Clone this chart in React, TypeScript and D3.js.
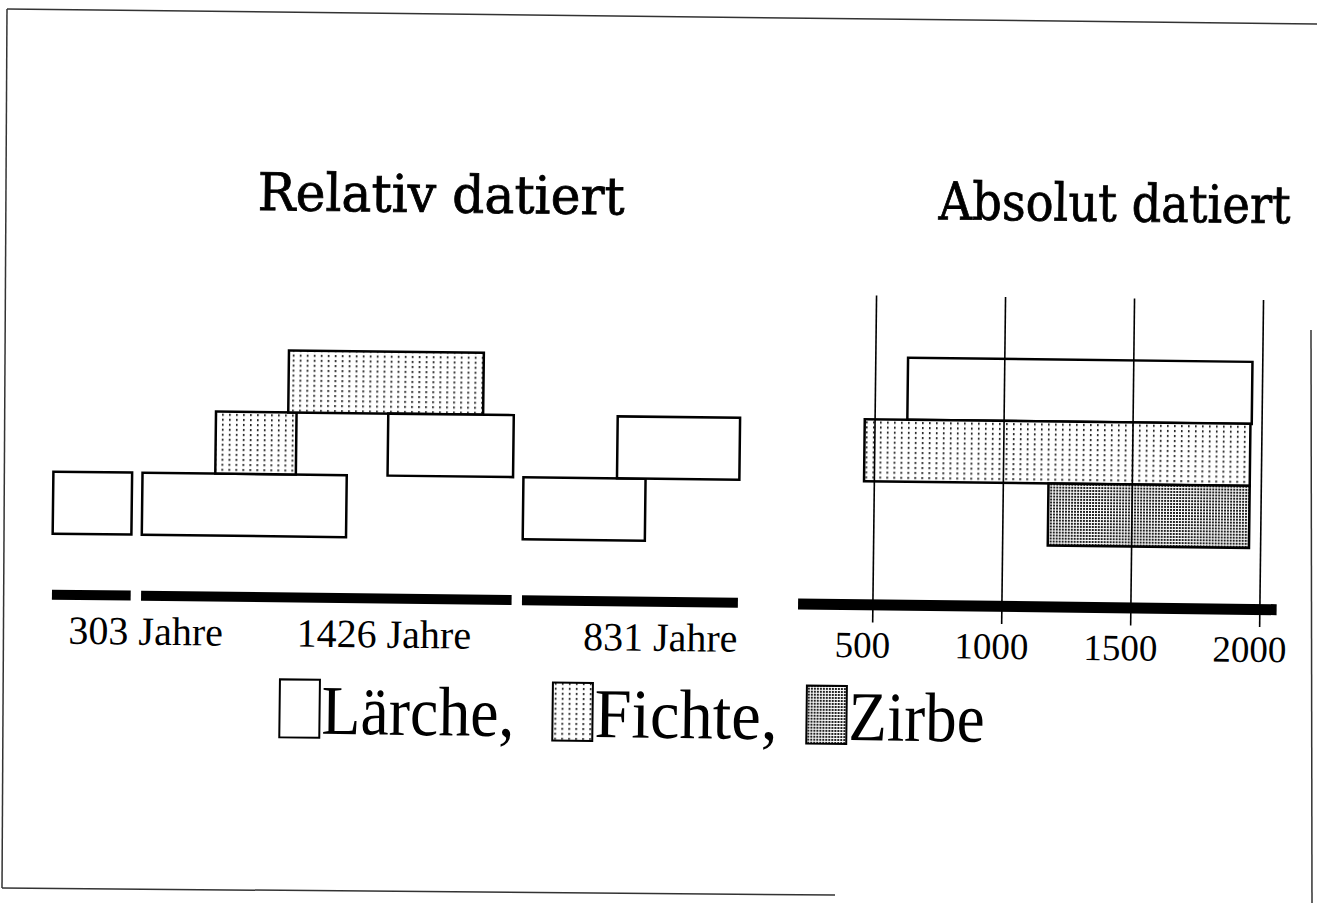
import React from "react";
import * as d3 from "d3";

// ---------- data ----------
const species = ["Lärche", "Fichte", "Zirbe"];
const legendLabels = ["Lärche,", "Fichte,", "Zirbe"];

// relative (floating) chronologies, lengths in years
const relSegments = [303, 1426, 831];
const relSegmentLabels = ["303 Jahre", "1426 Jahre", "831 Jahre"];

// bars within the floating chronologies (years relative to segment start)
const relBars = [
  { species: "Lärche", segment: 0, start: 0, end: 303, row: 0 },
  { species: "Lärche", segment: 1, start: 0, end: 786, row: 0 },
  { species: "Fichte", segment: 1, start: 280, end: 590, row: 1 },
  { species: "Fichte", segment: 1, start: 558, end: 1308, row: 2 },
  { species: "Lärche", segment: 1, start: 943, end: 1426, row: 1 },
  { species: "Lärche", segment: 2, start: 0, end: 470, row: 0 },
  { species: "Lärche", segment: 2, start: 360, end: 831, row: 1 },
];

// absolutely dated chronologies (calendar years AD)
const absBars = [
  { species: "Lärche", start: 625, end: 1960, row: 2 },
  { species: "Fichte", start: 460, end: 1955, row: 1 },
  { species: "Zirbe", start: 1175, end: 1955, row: 0 },
];
const absTicks = [500, 1000, 1500, 2000];
const absAxisExtent = [210, 2065];

// ---------- layout ----------
const W = 1317;
const H = 903;
const GAP_YEARS = 40;
const SCAN_TILT = 0.68;

const fillFor = (s: string) =>
  s === "Lärche" ? "#ffffff" : s === "Fichte" ? "url(#pFichte)" : "url(#pZirbe)";

export default function App() {
  const segOffsets: number[] = [];
  let acc = 0;
  relSegments.forEach((len, i) => {
    segOffsets.push(acc);
    acc += len + (i < relSegments.length - 1 ? GAP_YEARS : 0);
  });
  const relTotal = acc;

  const xRel = d3.scaleLinear().domain([0, relTotal]).range([59, 745]);
  const xAbs = d3.scaleLinear().domain([500, 2000]).range([880, 1267]);
  const yRow = d3.scaleBand<number>().domain([2, 1, 0]).range([347, 533]).paddingInner(0);

  const serif = "'Liberation Serif', 'Times New Roman', serif";
  const labelAnchor = ["start", "middle", "end"];
  const labelDx = [17, 58, 0];
  const legendX = [288, 561, 815];
  const legendTextLen = [193, 183, 136];

  return (
    <svg
      width={W}
      height={H}
      viewBox={`0 0 ${W} ${H}`}
      style={{ position: "absolute", left: 0, top: 0, background: "#fff" }}
    >
      <defs>
        <pattern id="pFichte" width={7} height={5} patternUnits="userSpaceOnUse">
          <rect width={7} height={5} fill="#fff" />
          <rect x={3} y={1} width={1.6} height={2.2} fill="#222" />
        </pattern>
        <pattern id="pZirbe" width={3} height={3} patternUnits="userSpaceOnUse">
          <rect width={3} height={3} fill="#fff" />
          <rect x={0} y={0} width={2} height={2} fill="#222" />
        </pattern>
      </defs>

      {/* scanned frame */}
      <g stroke="#333" strokeWidth={1.5} fill="none">
        <line x1={7} y1={9} x2={1317} y2={24} />
        <line x1={7} y1={9} x2={2} y2={888} />
        <line x1={2} y1={888} x2={835} y2={895} />
        <line x1={1311} y1={330} x2={1312} y2={903} />
      </g>

      <g transform={`rotate(${SCAN_TILT})`}>
        {/* titles */}
        <text
          x={260}
          y={207}
          fontFamily="'DejaVu Serif', serif"
          fontSize={52}
          textLength={367}
          lengthAdjust="spacingAndGlyphs"
          fill="#000"
          stroke="#000"
          strokeWidth={0.8}
        >
          Relativ datiert
        </text>
        <text
          x={941}
          y={208}
          fontFamily="'DejaVu Serif', serif"
          fontSize={52}
          textLength={352}
          lengthAdjust="spacingAndGlyphs"
          fill="#000"
          stroke="#000"
          strokeWidth={0.8}
        >
          Absolut datiert
        </text>

        {/* relative chronologies */}
        {relBars.map((b, i) => {
          const x0 = xRel(segOffsets[b.segment] + b.start);
          const x1 = xRel(segOffsets[b.segment] + b.end);
          return (
            <rect
              key={"r" + i}
              x={x0}
              y={yRow(b.row)}
              width={x1 - x0}
              height={yRow.bandwidth()}
              fill={fillFor(b.species)}
              stroke="#000"
              strokeWidth={2.5}
            />
          );
        })}
        {relSegments.map((len, i) => {
          const x0 = xRel(segOffsets[i]);
          const x1 = xRel(segOffsets[i] + len);
          const anchor = labelAnchor[i];
          const lx = anchor === "start" ? x0 : anchor === "end" ? x1 : (x0 + x1) / 2;
          return (
            <g key={"s" + i}>
              <rect x={x0} y={589} width={x1 - x0} height={10} fill="#000" />
              <text
                x={lx + labelDx[i]}
                y={643}
                textAnchor={anchor}
                fontFamily={serif}
                fontSize={40}
                fill="#000"
              >
                {relSegmentLabels[i]}
              </text>
            </g>
          );
        })}

        {/* absolute chronologies */}
        {absBars.map((b, i) => (
          <rect
            key={"a" + i}
            x={xAbs(b.start)}
            y={yRow(b.row)}
            width={xAbs(b.end) - xAbs(b.start)}
            height={yRow.bandwidth()}
            fill={fillFor(b.species)}
            stroke="#000"
            strokeWidth={2.5}
          />
        ))}
        <rect
          x={xAbs(absAxisExtent[0])}
          y={589}
          width={xAbs(absAxisExtent[1]) - xAbs(absAxisExtent[0])}
          height={11}
          fill="#000"
        />
        {absTicks.map((t) => (
          <g key={"t" + t}>
            <line x1={xAbs(t)} x2={xAbs(t)} y1={285} y2={612} stroke="#000" strokeWidth={1.6} />
            <text
              x={xAbs(t) - 10}
              y={647}
              textAnchor="middle"
              fontFamily={serif}
              fontSize={37}
              fill="#000"
            >
              {t}
            </text>
          </g>
        ))}

        {/* legend */}
        {species.map((s, i) => (
          <g key={"l" + s}>
            <rect
              x={legendX[i]}
              y={676}
              width={40}
              height={58}
              fill={fillFor(s)}
              stroke="#000"
              strokeWidth={2}
            />
            <text
              x={legendX[i] + 42}
              y={730}
              fontFamily={serif}
              fontSize={70}
              textLength={legendTextLen[i]}
              lengthAdjust="spacingAndGlyphs"
              fill="#000"
            >
              {legendLabels[i]}
            </text>
          </g>
        ))}
      </g>
    </svg>
  );
}
